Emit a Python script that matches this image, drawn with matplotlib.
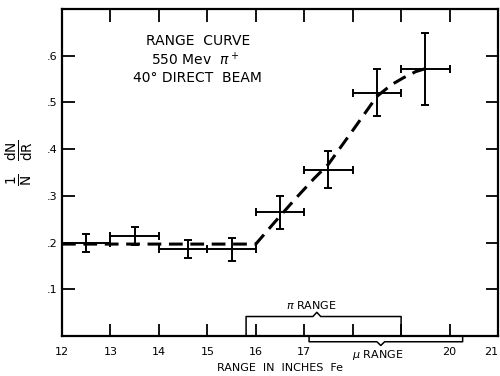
import numpy as np
import matplotlib.pyplot as plt

# bins in inches of Fe and measured points
x_lo = [12, 13, 14, 15, 16, 17, 18, 19]
x_hi = [13, 14, 15, 16, 17, 18, 19, 20]
x_pt = [12.5, 13.5, 14.6, 15.5, 16.5, 17.5, 18.5, 19.5]
y_pt = [0.199, 0.214, 0.186, 0.186, 0.265, 0.356, 0.521, 0.572]
y_err = [0.019, 0.019, 0.019, 0.025, 0.035, 0.040, 0.050, 0.077]

# dashed fitted range curve
curve_x = [12.0, 16.0, 16.4, 16.8, 17.2, 17.5, 18.0, 18.5, 18.8, 19.05, 19.3, 19.55]
curve_y = [0.197, 0.197, 0.245, 0.292, 0.337, 0.368, 0.44, 0.513, 0.538, 0.553, 0.566, 0.574]

xticks = [12, 13, 14, 15, 16, 17, 18, 19, 20, 21]
xtick_labels = ["12", "13", "14", "15", "16", "17", "", "", "20", "21"]
yticks = [0.1, 0.2, 0.3, 0.4, 0.5, 0.6]
ytick_labels = [".1", ".2", ".3", ".4", ".5", ".6"]

pi_range = [15.8, 19.0]
mu_range = [17.1, 20.27]

plt.rcParams['font.family'] = ['DejaVu Sans']
fig = plt.figure(figsize=(5, 3.76), dpi=100)
ax = fig.add_axes([0.124, 0.106, 0.872, 0.870])

x_pt = np.array(x_pt)
xerr = [x_pt - np.array(x_lo), np.array(x_hi) - x_pt]
ax.errorbar(x_pt, y_pt, yerr=y_err, xerr=xerr, fmt='none', ecolor='black',
            elinewidth=1.4, capsize=3, capthick=1.4)
ax.plot(curve_x, curve_y, color='black', lw=2.2, dashes=(4.5, 2.5))

ax.set_xlim(12, 21)
ax.set_ylim(0, 0.70)
ax.set_xticks(xticks)
ax.set_xticklabels(xtick_labels)
ax.set_yticks(yticks)
ax.set_yticklabels(ytick_labels)
ax.tick_params(direction='in', length=9, width=1.3, top=True, right=True,
               labelsize=8, pad=8)
ax.tick_params(axis='y', pad=3)
ax.get_xticklabels()[-1].set_horizontalalignment('right')
for s in ax.spines.values():
    s.set_linewidth(1.6)

# pi range bracket above the axis
y0, y1 = 0.0, 0.042
xm = 17.26
ax.plot([pi_range[0], pi_range[0], xm - 0.08, xm, xm + 0.08, pi_range[1], pi_range[1]],
        [y0, y1, y1, y1 + 0.009, y1, y1, y0], color='black', lw=1.1)
ax.text(17.15, 0.067, r"$\pi$ RANGE", ha='center', va='center', fontsize=8)

# mu range bracket below the axis
yb = -0.012
xm2 = 18.58
ax.plot([mu_range[0], mu_range[0], xm2 - 0.08, xm2, xm2 + 0.08, mu_range[1], mu_range[1]],
        [0, yb, yb, yb - 0.008, yb, yb, 0], color='black', lw=1.1, clip_on=False)
ax.text(18.52, -0.04, r"$\mu$ RANGE", ha='center', va='center', fontsize=8)

ax.text(14.8, 0.631, "RANGE  CURVE", ha='center', va='center', fontsize=10)
ax.text(14.75, 0.592, r"550 Mev  $\pi^+$", ha='center', va='center', fontsize=10)
ax.text(14.8, 0.552, "40° DIRECT  BEAM", ha='center', va='center', fontsize=10)

fig.text(0.56, 0.021, "RANGE  IN  INCHES  Fe", ha='center', va='center', fontsize=8)
fig.text(0.04, 0.566, r"$\mathrm{\frac{1}{N}\ \ \frac{dN}{dR}}$", rotation=90,
         ha='center', va='center', fontsize=14)

fig.savefig("out.png", dpi=100)
